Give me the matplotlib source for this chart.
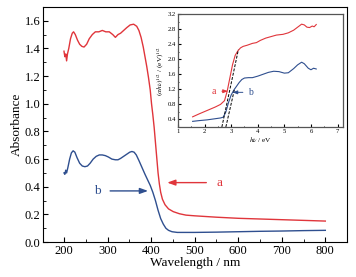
import numpy as np
import matplotlib
matplotlib.use('Agg')
import matplotlib.pyplot as plt
from matplotlib.ticker import MultipleLocator

plt.rcParams['font.family'] = 'Liberation Serif'
plt.rcParams['mathtext.fontset'] = 'stix'

# main UV-vis spectra
wl_a = [200, 202, 204, 206, 208, 211, 215, 219, 222, 226, 231, 236, 241, 246, 252,
        258, 265, 272, 280, 288, 296, 304, 312, 318, 324, 330, 337, 344, 352, 360,
        367, 372, 377, 382, 386, 390, 394, 398, 401, 404, 407, 410, 413, 416, 419,
        422, 426, 432, 440, 451, 465, 480, 500, 550, 600, 650, 700, 750, 800]
abs_a = [1.38, 1.34, 1.36, 1.31, 1.36, 1.40, 1.47, 1.51, 1.52, 1.50, 1.46, 1.43, 1.415, 1.41, 1.43,
         1.47, 1.50, 1.52, 1.52, 1.53, 1.52, 1.52, 1.50, 1.48, 1.50, 1.51, 1.53, 1.55, 1.57, 1.575,
         1.56, 1.53, 1.48, 1.41, 1.34, 1.27, 1.19, 1.10, 1.00, 0.92, 0.83, 0.72, 0.61, 0.50, 0.42,
         0.36, 0.31, 0.27, 0.24, 0.22, 0.205, 0.195, 0.19, 0.18, 0.172, 0.167, 0.162, 0.157, 0.152]

wl_b = [200, 202, 204, 206, 209, 213, 217, 221, 225, 230, 236, 242, 248, 254, 260,
        267, 274, 281, 288, 295, 302, 310, 318, 324, 330, 337, 344, 351, 356, 361,
        366, 372, 379, 386, 392, 398, 404, 410, 416, 422, 428, 434, 440, 448, 460,
        480, 500, 550, 600, 650, 700, 750, 800]
abs_b = [0.50, 0.49, 0.52, 0.50, 0.54, 0.60, 0.645, 0.66, 0.65, 0.61, 0.57, 0.55, 0.545, 0.55, 0.57,
         0.60, 0.62, 0.63, 0.63, 0.625, 0.615, 0.60, 0.595, 0.595, 0.605, 0.62, 0.635, 0.65, 0.655, 0.65,
         0.63, 0.59, 0.54, 0.49, 0.45, 0.41, 0.36, 0.30, 0.23, 0.17, 0.13, 0.10, 0.085, 0.075, 0.07,
         0.07, 0.07, 0.072, 0.075, 0.078, 0.08, 0.083, 0.085]

# Tauc plot (inset)
E_a = [1.55, 1.8, 2.1, 2.4, 2.6, 2.75, 2.85, 2.95, 3.05, 3.15, 3.25, 3.35, 3.45, 3.6, 3.8, 3.95,
       4.1, 4.3, 4.5, 4.7, 4.95, 5.15, 5.35, 5.5, 5.65, 5.75, 5.85, 5.95, 6.05, 6.12, 6.2]
tauc_a = [0.47, 0.55, 0.64, 0.73, 0.80, 0.90, 1.15, 1.50, 1.85, 2.10, 2.22, 2.30, 2.34, 2.37, 2.42, 2.44,
          2.50, 2.56, 2.60, 2.64, 2.66, 2.70, 2.77, 2.85, 2.93, 2.91, 2.85, 2.84, 2.88, 2.86, 2.92]
E_b = [1.55, 1.8, 2.1, 2.4, 2.6, 2.7, 2.8, 2.9, 3.0, 3.1, 3.2, 3.3, 3.4, 3.5, 3.65, 3.8,
       4.0, 4.2, 4.4, 4.6, 4.8, 5.0, 5.15, 5.35, 5.5, 5.65, 5.75, 5.9, 6.0, 6.1, 6.2]
tauc_b = [0.35, 0.37, 0.39, 0.42, 0.44, 0.46, 0.60, 0.85, 1.05, 1.18, 1.28, 1.38, 1.46, 1.50, 1.51, 1.51,
          1.55, 1.60, 1.65, 1.68, 1.67, 1.63, 1.64, 1.75, 1.85, 1.92, 1.88, 1.76, 1.72, 1.76, 1.74]

# band gap tangents
fit_a_E = [2.65, 3.27]
fit_a_y = [0.2, 2.25]
fit_b_E = [2.80, 3.13]
fit_b_y = [0.2, 1.22]

red = '#e0353b'
blue = '#2f4f8f'

fig = plt.figure(figsize=(3.56, 2.77), dpi=100)
ax = fig.add_axes([0.121, 0.126, 0.854, 0.849])
ax.plot(wl_a, abs_a, color=red, lw=1.0)
ax.plot(wl_b, abs_b, color=blue, lw=1.0)
ax.set_xlim(152, 850)
ax.set_ylim(0, 1.7)
ax.xaxis.set_major_locator(MultipleLocator(100))
ax.xaxis.set_minor_locator(MultipleLocator(50))
ax.yaxis.set_major_locator(MultipleLocator(0.2))
ax.yaxis.set_minor_locator(MultipleLocator(0.1))
ax.yaxis.set_major_formatter(plt.FormatStrFormatter('%.1f'))
ax.tick_params(which='both', direction='in', labelsize=9, pad=2)
ax.tick_params(which='major', length=3.5)
ax.tick_params(which='minor', length=2)
ax.set_xlabel('Wavelength / nm', fontsize=9.5, labelpad=0)
ax.set_ylabel('Absorbance', fontsize=9.5, labelpad=1)

arrow_kw = dict(arrowstyle='-|>,head_length=0.5,head_width=0.18', lw=1.0, shrinkA=5, shrinkB=0)
ax.annotate('a', xy=(437, 0.43), xytext=(556, 0.43), color=red, fontsize=9.5,
            ha='center', va='center', arrowprops=dict(color=red, **arrow_kw))
ax.annotate('b', xy=(393, 0.37), xytext=(276, 0.37), color=blue, fontsize=9.5,
            ha='center', va='center', arrowprops=dict(color=blue, **arrow_kw))

ins = fig.add_axes([0.5, 0.5415, 0.463, 0.408])
ins.plot(E_a, tauc_a, color=red, lw=0.8)
ins.plot(E_b, tauc_b, color=blue, lw=0.8)
ins.plot(fit_a_E, fit_a_y, color='k', ls='--', lw=0.7, dashes=(3, 1.5))
ins.plot(fit_b_E, fit_b_y, color='k', ls='--', lw=0.7, dashes=(3, 1.5))
ins.set_xlim(1, 7.2)
ins.set_ylim(0.2, 3.2)
ins.xaxis.set_major_locator(MultipleLocator(1))
ins.xaxis.set_minor_locator(MultipleLocator(0.5))
ins.yaxis.set_major_locator(MultipleLocator(0.4))
ins.yaxis.set_minor_locator(MultipleLocator(0.2))
ins.yaxis.set_major_formatter(plt.FormatStrFormatter('%.1f'))
ins.tick_params(which='both', direction='in', labelsize=4.8, pad=1.5)
ins.tick_params(which='major', length=2)
ins.tick_params(which='minor', length=1)
for s in ins.spines.values():
    s.set_color('#555555')
    s.set_linewidth(0.9)
ins.set_xlabel(r'$h\nu$ / eV', fontsize=5.2, labelpad=0.5)
ins.set_ylabel(r'$(\alpha h\nu)^{1/2}$ / (eV)$^{1/2}$', fontsize=5.2, labelpad=1)

small_kw = dict(arrowstyle='-|>,head_length=0.4,head_width=0.15', lw=0.7, shrinkA=2, shrinkB=0)
ins.annotate('a', xy=(2.88, 1.15), xytext=(2.36, 1.15), color=red, fontsize=7,
             ha='center', va='center', arrowprops=dict(color=red, **small_kw))
ins.annotate('b', xy=(3.05, 1.12), xytext=(3.74, 1.12), color=blue, fontsize=7,
             ha='center', va='center', arrowprops=dict(color=blue, **small_kw))

fig.savefig('out.png', dpi=100)
